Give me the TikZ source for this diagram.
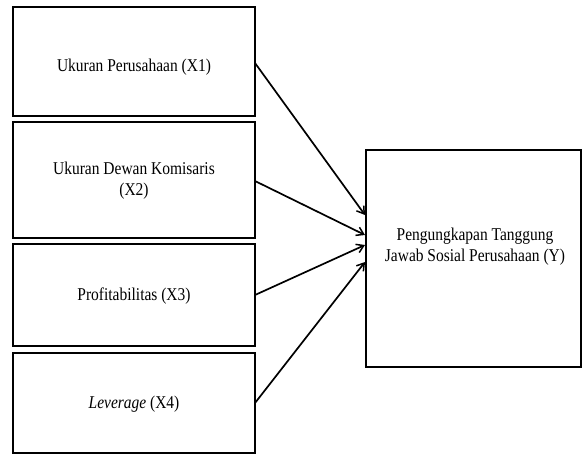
\documentclass[tikz,border=0pt]{standalone}
\usepackage{fontspec}
\setmainfont{Liberation Serif}[FakeStretch=0.86]
\usetikzlibrary{arrows.meta}
\begin{document}
\begin{tikzpicture}[x=1pt,y=-1pt,
  box/.style={draw,line width=1.9pt,inner sep=0pt},
  lbl/.style={align=center,font=\fontsize{18}{21}\selectfont},
  conn/.style={line width=1.7pt,-{Straight Barb[length=7pt,width=9pt,line width=1.5pt]}}]
\useasboundingbox (0,0) rectangle (582,455);
\draw[box] (13,7) rectangle (255,116);
\draw[box] (13,122) rectangle (255,238);
\draw[box] (13,244) rectangle (255,346);
\draw[box] (13,353) rectangle (255,453);
\draw[box] (366,150) rectangle (581,367);
\node[lbl] (x1) at (134,67) {Ukuran Perusahaan (X1)};
\node[lbl] (x2) at (134,181) {Ukuran Dewan Komisaris\\(X2)};
\node[lbl] (x3) at (134,296) {Profitabilitas (X3)};
\node[lbl] (x4) at (134,404) {\textit{Leverage} (X4)};
\node[lbl] (y) at (475,247) {Pengungkapan Tanggung\\Jawab Sosial Perusahaan (Y)};
\coordinate (s1) at (255,63);
\coordinate (s2) at (255,181);
\coordinate (s3) at (255,295);
\coordinate (s4) at (255,403);
\coordinate (e1) at (365,215);
\coordinate (e2) at (365,235);
\coordinate (e3) at (365,245);
\coordinate (e4) at (365,262);
\draw[conn] (s1) -- (e1);
\draw[conn] (s2) -- (e2);
\draw[conn] (s3) -- (e3);
\draw[conn] (s4) -- (e4);
\end{tikzpicture}
\end{document}
